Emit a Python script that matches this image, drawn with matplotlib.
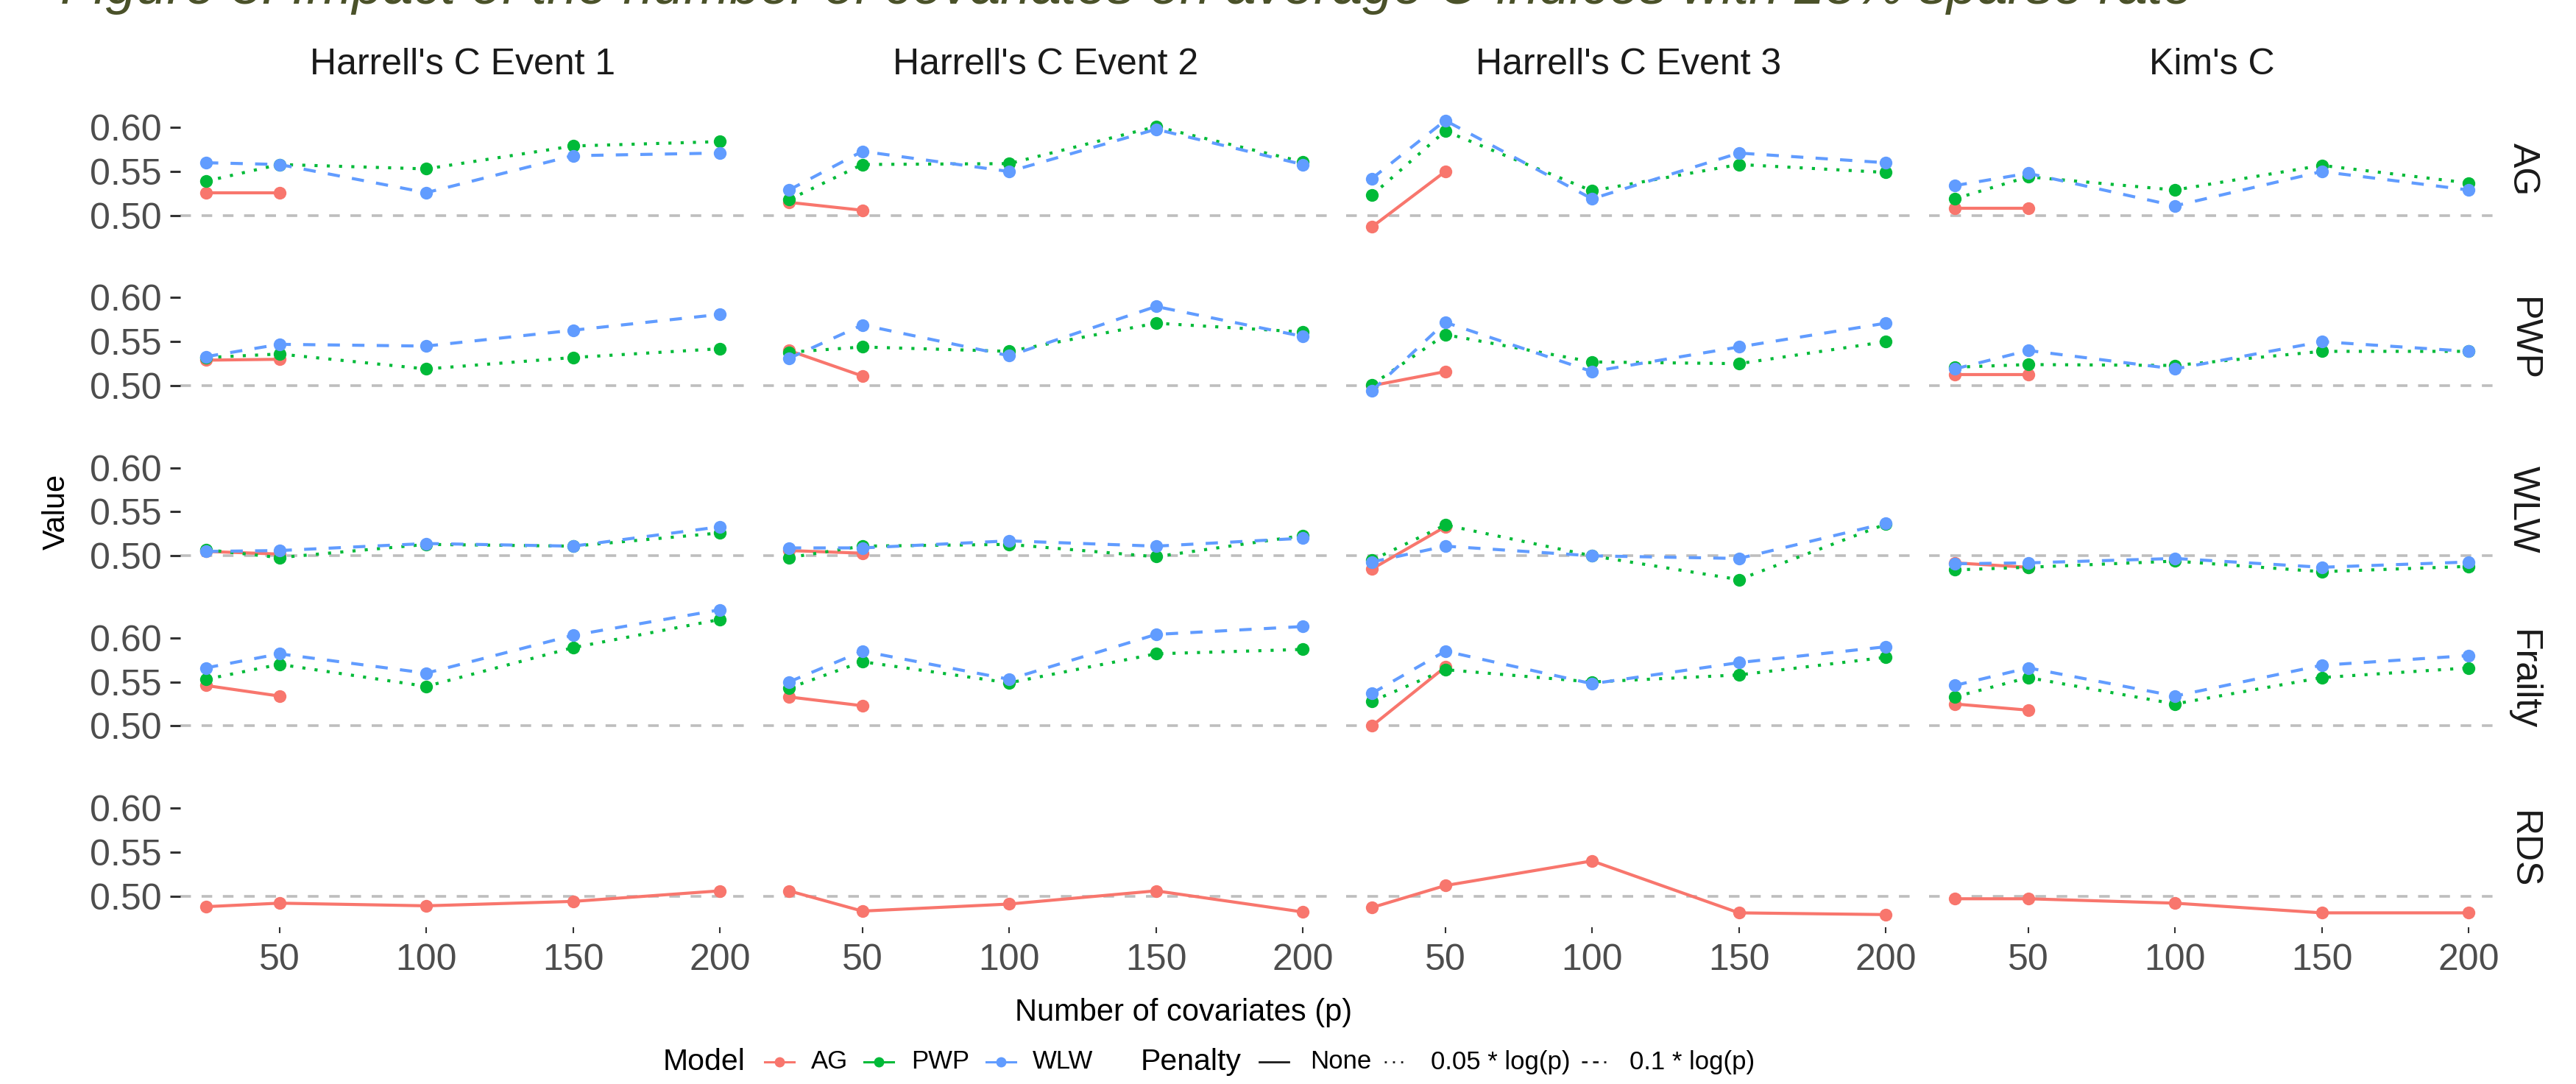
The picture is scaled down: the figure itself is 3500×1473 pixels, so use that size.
"""
Impact of the number of covariates on average C-indices (25% sparse rate).
Facet grid: rows = model, columns = C-index, one line per penalty.
"""

import matplotlib.pyplot as plt
from matplotlib.lines import Line2D

plt.rcParams['font.family'] = ['Liberation Sans', 'DejaVu Sans']

TITLE = ("Figure 3: Impact of the number of covariates on average "
         "C-indices with 25% sparse rate")

P_VALUES = [25, 50, 100, 150, 200]
METRICS = ["Harrell's C Event 1", "Harrell's C Event 2",
           "Harrell's C Event 3", "Kim's C"]
MODELS = ["AG", "PWP", "WLW", "Frailty", "RDS"]

# --- values, one list per metric column ---
# Penalty None: only p = 25 and 50 exist (except RDS)
AG_NONE = [[0.526, 0.526], [0.515, 0.506], [0.487, 0.550], [0.508, 0.508]]
AG_P05 = [[0.539, 0.558, 0.553, 0.579, 0.584],
          [0.518, 0.558, 0.559, 0.601, 0.561],
          [0.523, 0.596, 0.528, 0.558, 0.549],
          [0.519, 0.544, 0.529, 0.557, 0.537]]
AG_P10 = [[0.560, 0.558, 0.526, 0.568, 0.571],
          [0.529, 0.573, 0.550, 0.598, 0.558],
          [0.542, 0.608, 0.519, 0.571, 0.560],
          [0.534, 0.548, 0.511, 0.550, 0.529]]

PWP_NONE = [[0.529, 0.530], [0.540, 0.511], [0.500, 0.516], [0.513, 0.513]]
PWP_P05 = [[0.532, 0.536, 0.519, 0.532, 0.542],
           [0.538, 0.544, 0.539, 0.571, 0.561],
           [0.501, 0.558, 0.527, 0.525, 0.550],
           [0.521, 0.524, 0.523, 0.539, 0.539]]
PWP_P10 = [[0.533, 0.547, 0.545, 0.563, 0.581],
           [0.531, 0.569, 0.534, 0.590, 0.556],
           [0.494, 0.572, 0.516, 0.544, 0.571],
           [0.519, 0.540, 0.519, 0.550, 0.539]]

WLW_NONE = [[0.505, 0.502], [0.506, 0.503], [0.485, 0.533], [0.492, 0.487]]
WLW_P05 = [[0.507, 0.498, 0.513, 0.511, 0.526],
           [0.498, 0.511, 0.513, 0.499, 0.523],
           [0.495, 0.535, 0.500, 0.473, 0.536],
           [0.484, 0.487, 0.494, 0.482, 0.488]]
WLW_P10 = [[0.505, 0.506, 0.514, 0.511, 0.533],
           [0.509, 0.509, 0.517, 0.511, 0.520],
           [0.493, 0.511, 0.500, 0.497, 0.537],
           [0.491, 0.492, 0.497, 0.487, 0.493]]

FRAILTY_NONE = [[0.546, 0.534], [0.533, 0.523], [0.500, 0.567], [0.525, 0.518]]
FRAILTY_P05 = [[0.553, 0.570, 0.545, 0.589, 0.621],
               [0.543, 0.573, 0.549, 0.582, 0.587],
               [0.528, 0.564, 0.550, 0.558, 0.578],
               [0.533, 0.555, 0.525, 0.555, 0.566]]
FRAILTY_P10 = [[0.566, 0.582, 0.560, 0.603, 0.632],
               [0.550, 0.585, 0.553, 0.604, 0.613],
               [0.537, 0.585, 0.548, 0.572, 0.590],
               [0.546, 0.566, 0.534, 0.569, 0.580]]

# RDS only has the unpenalised fit, at every p
RDS_NONE = [[0.488, 0.492, 0.489, 0.494, 0.506],
            [0.506, 0.483, 0.491, 0.506, 0.482],
            [0.487, 0.512, 0.540, 0.481, 0.479],
            [0.497, 0.497, 0.492, 0.481, 0.481]]

NONE_VALS = {"AG": AG_NONE, "PWP": PWP_NONE, "WLW": WLW_NONE,
             "Frailty": FRAILTY_NONE, "RDS": RDS_NONE}
P05_VALS = {"AG": AG_P05, "PWP": PWP_P05, "WLW": WLW_P05,
            "Frailty": FRAILTY_P05}
P10_VALS = {"AG": AG_P10, "PWP": PWP_P10, "WLW": WLW_P10,
            "Frailty": FRAILTY_P10}

RED, GREEN, BLUE = "#F8766D", "#00BA38", "#619CFF"
DOTTED = (0, (1, 3))
DASHED = (0, (4, 4))
LW, MS = 3.0, 12.5

# shared y range like ggplot: data range + 5 % each side
all_vals = [v for d in (NONE_VALS, P05_VALS, P10_VALS)
            for rows in d.values() for r in rows for v in r]
lo, hi = min(all_vals), max(all_vals)
pad = 0.05 * (hi - lo)
YLIM = (lo - pad, hi + pad)
XLIM = (25 - 0.05 * 175, 200 + 0.05 * 175)

W, H = 3500, 1473
fig, axes = plt.subplots(5, 4, figsize=(W / 100, H / 100), dpi=100)
fig.subplots_adjust(left=245 / W, right=3389 / W, top=1 - 125.5 / H,
                    bottom=1 - 1259.5 / H, wspace=24 / 768, hspace=22 / 209)

for i, model in enumerate(MODELS):
    for j, metric in enumerate(METRICS):
        ax = axes[i, j]
        ax.axhline(0.5, color="#BEBEBE", lw=2.6, ls=DASHED, zorder=1)

        none = NONE_VALS[model][j]
        ax.plot(P_VALUES[:len(none)], none, color=RED, lw=LW, ls="-",
                marker="o", ms=MS, mew=0, zorder=3)
        if model in P05_VALS:
            ax.plot(P_VALUES, P05_VALS[model][j], color=GREEN, lw=LW,
                    ls=DOTTED, marker="o", ms=MS, mew=0, zorder=4)
            ax.plot(P_VALUES, P10_VALS[model][j], color=BLUE, lw=LW,
                    ls=DASHED, marker="o", ms=MS, mew=0, zorder=5)

        ax.set_xlim(XLIM)
        ax.set_ylim(YLIM)
        ax.set_xticks([50, 100, 150, 200])
        ax.set_yticks([0.50, 0.55, 0.60])
        ax.set_yticklabels(["0.50", "0.55", "0.60"])
        for s in ax.spines.values():
            s.set_visible(False)

        ax.tick_params(axis="y", length=10, width=2.2, color="#333333",
                       pad=8, labelsize=36, labelcolor="#4D4D4D",
                       left=(j == 0), labelleft=(j == 0))
        ax.tick_params(axis="x", length=6, width=1.5, color="#333333",
                       pad=10, labelsize=36, labelcolor="#4D4D4D",
                       bottom=(i == 4), labelbottom=(i == 4))

        if i == 0:
            ax.annotate(metric, xy=(0.5, 1), xycoords="axes fraction",
                        xytext=(0, 27), textcoords="offset points",
                        ha="center", va="center", fontsize=36,
                        color="#1A1A1A")
        if j == 3:
            ax.annotate(model, xy=(1, 0.5), xycoords="axes fraction",
                        xytext=(28, 0), textcoords="offset points",
                        ha="center", va="center", rotation=270,
                        fontsize=36, color="#1A1A1A")

fig.text(1608 / W, 1 - 1387 / H, "Number of covariates (p)",
         ha="center", va="baseline", fontsize=30)
fig.text(77 / W, 1 - 695 / H, "Value", rotation=90,
         ha="center", va="center", fontsize=30)

# --- legend, laid out by hand along the bottom ---
y_leg = 1 - 1443 / H
fig.text(901 / W, y_leg, "Model", ha="left", va="center", fontsize=29.5)
for label, color, xc, xt in [("AG", RED, 1059, 1102),
                             ("PWP", GREEN, 1194, 1238),
                             ("WLW", BLUE, 1360, 1403)]:
    fig.add_artist(Line2D([(xc - 20) / W, (xc + 20) / W], [y_leg, y_leg],
                          transform=fig.transFigure, color=color, lw=2.2))
    fig.add_artist(Line2D([xc / W], [y_leg], transform=fig.transFigure,
                          color=color, marker="o", ms=10, mew=0))
    fig.text(xt / W, y_leg, label, ha="left", va="center", fontsize=25)

fig.text(1550 / W, y_leg, "Penalty", ha="left", va="center", fontsize=29.5)
for label, ls, x0, x1, xt in [("None", "-", 1711, 1751, 1780),
                              ("0.05 * log(p)", (0, (1, 3)), 1881, 1914, 1944),
                              ("0.1 * log(p)", (0, (2.7, 2.7)), 2149, 2182, 2214)]:
    fig.add_artist(Line2D([x0 / W, x1 / W], [y_leg, y_leg],
                          transform=fig.transFigure, color="#1A1A1A",
                          lw=2.0, ls=ls))
    fig.text(xt / W, y_leg, label, ha="left", va="center", fontsize=25)

# title sits half off the top edge, as in the source image
title = fig.text(82 / W, 1 - 5 / H, TITLE, ha="left", va="baseline",
                 style="italic", color="#4A5129", fontsize=50)
fig.canvas.draw()
bb = title.get_window_extent(fig.canvas.get_renderer())
title.set_fontsize(50 * 2898 / bb.width)

plt.savefig("out.png", dpi=100)
print("Saved: out.png")
